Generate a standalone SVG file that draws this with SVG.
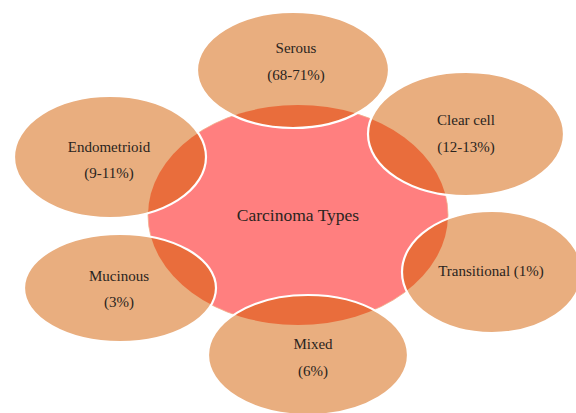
<svg xmlns="http://www.w3.org/2000/svg" width="576" height="413" viewBox="0 0 576 413">
<style>
.sat{fill:#E9AE7F;stroke:none}
.ring{fill:none;stroke:#FFFFFF;stroke-width:2.2}
.ov{fill:#E96D3C;stroke:none}
text{font-family:'Liberation Serif','Times New Roman',serif;fill:#2a2420;text-anchor:middle}
.lbl{font-size:15px}
.ctr{font-size:17.5px}
</style>
<defs>
<ellipse id="e-serous" cx="293" cy="70" rx="96" ry="58"/>
<ellipse id="e-clear" cx="466" cy="134" rx="98" ry="62"/>
<ellipse id="e-endo" cx="110" cy="157" rx="96" ry="61"/>
<ellipse id="e-muc" cx="120" cy="288" rx="96" ry="54"/>
<ellipse id="e-trans" cx="492" cy="272" rx="90" ry="61"/>
<ellipse id="e-mixed" cx="308" cy="355" rx="100" ry="60"/>
<clipPath id="cc"><ellipse cx="298" cy="215" rx="150" ry="110"/></clipPath>
</defs>
<rect width="576" height="413" fill="#FFFFFF"/>
<g id="center">
<ellipse cx="298" cy="215" rx="150" ry="110" fill="#FF7F7F" stroke="#F0B08A" stroke-width="0.8"/>
</g>
<g id="satellites-fill">
<use href="#e-serous" class="sat"/>
<use href="#e-clear" class="sat"/>
<use href="#e-endo" class="sat"/>
<use href="#e-muc" class="sat"/>
<use href="#e-trans" class="sat"/>
<use href="#e-mixed" class="sat"/>
</g>
<g id="overlaps" clip-path="url(#cc)">
<use href="#e-serous" class="ov"/>
<use href="#e-clear" class="ov"/>
<use href="#e-endo" class="ov"/>
<use href="#e-muc" class="ov"/>
<use href="#e-trans" class="ov"/>
<use href="#e-mixed" class="ov"/>
</g>
<g id="rings">
<use href="#e-serous" class="ring"/>
<use href="#e-clear" class="ring"/>
<use href="#e-endo" class="ring"/>
<use href="#e-muc" class="ring"/>
<use href="#e-trans" class="ring"/>
<use href="#e-mixed" class="ring"/>
</g>
<g font-family="Liberation Serif, serif">
<g id="node-center"><text class="ctr" x="298" y="221">Carcinoma Types</text></g>
<g id="node-serous"><text class="lbl" x="296" y="53">Serous</text><text class="lbl" x="296" y="80">(68-71%)</text></g>
<g id="node-clear"><text class="lbl" x="466" y="125">Clear cell</text><text class="lbl" x="466" y="152">(12-13%)</text></g>
<g id="node-endo"><text class="lbl" x="109" y="152">Endometrioid</text><text class="lbl" x="109" y="178">(9-11%)</text></g>
<g id="node-muc"><text class="lbl" x="119" y="281">Mucinous</text><text class="lbl" x="119" y="307">(3%)</text></g>
<g id="node-trans"><text class="lbl" x="491" y="276">Transitional (1%)</text></g>
<g id="node-mixed"><text class="lbl" x="313" y="349">Mixed</text><text class="lbl" x="313" y="376">(6%)</text></g>
</g>
<g id="connectors"/>
</svg>
